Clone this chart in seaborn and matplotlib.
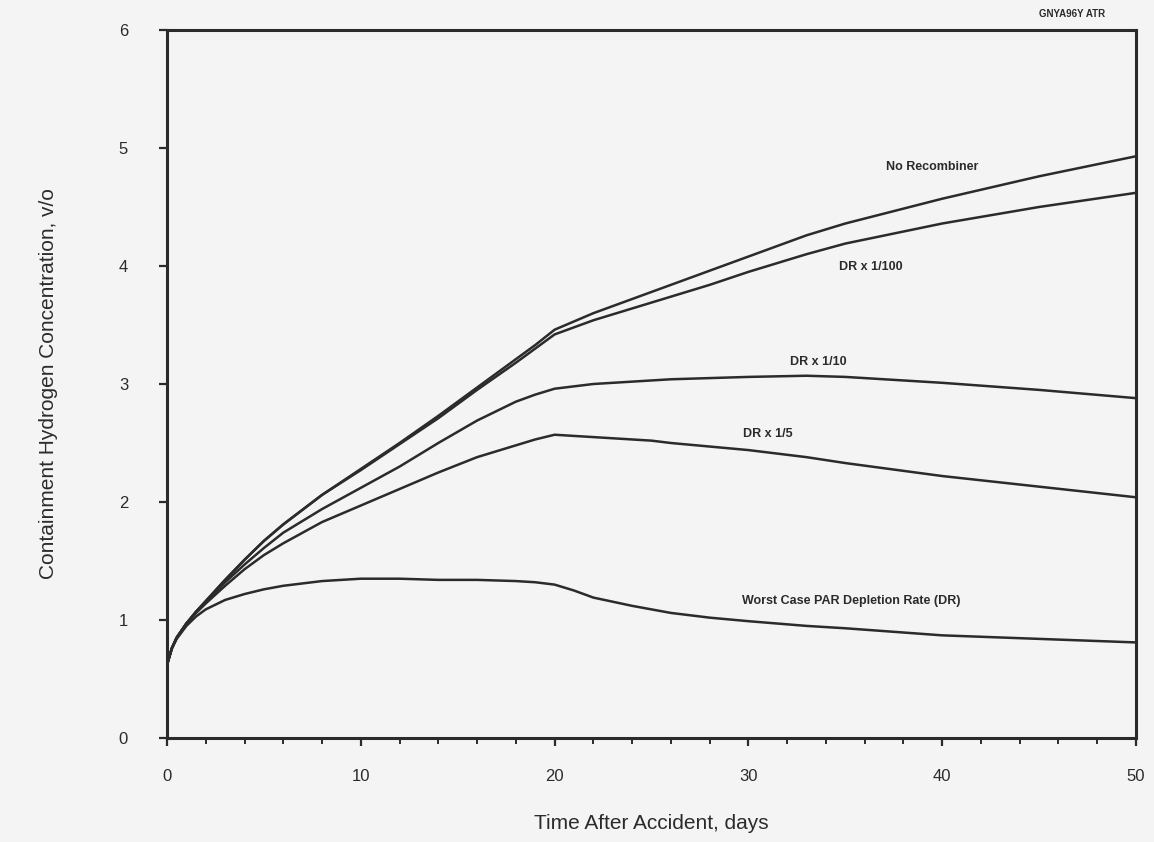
import numpy as np
import pandas as pd
import matplotlib
matplotlib.use("Agg")
import matplotlib.pyplot as plt
import seaborn as sns
from matplotlib.ticker import MultipleLocator

# ---- data ----
days = [0, 0.25, 0.5, 1, 1.5, 2, 3, 4, 5, 6, 8, 10, 12, 14, 16, 18, 19, 20, 21, 22, 24, 25, 26, 28, 30, 33, 35, 40, 45, 50]

no_recombiner = [0.62, 0.76, 0.85, 0.97, 1.07, 1.16, 1.34, 1.51, 1.67, 1.81, 2.06, 2.28, 2.50, 2.73, 2.97, 3.21, 3.33, 3.46, 3.53, 3.60, 3.72, 3.78, 3.84, 3.96, 4.08, 4.26, 4.36, 4.57, 4.76, 4.93]
dr_1_100 = [0.62, 0.76, 0.85, 0.97, 1.07, 1.16, 1.34, 1.51, 1.67, 1.81, 2.06, 2.27, 2.49, 2.71, 2.95, 3.18, 3.30, 3.42, 3.48, 3.54, 3.64, 3.69, 3.74, 3.84, 3.95, 4.10, 4.19, 4.36, 4.50, 4.62]
dr_1_10 = [0.62, 0.76, 0.85, 0.97, 1.07, 1.15, 1.32, 1.47, 1.61, 1.74, 1.94, 2.12, 2.30, 2.50, 2.69, 2.85, 2.91, 2.96, 2.98, 3.00, 3.02, 3.03, 3.04, 3.05, 3.06, 3.07, 3.06, 3.01, 2.95, 2.88]
dr_1_5 = [0.62, 0.76, 0.85, 0.97, 1.06, 1.14, 1.29, 1.43, 1.55, 1.65, 1.83, 1.97, 2.11, 2.25, 2.38, 2.48, 2.53, 2.57, 2.56, 2.55, 2.53, 2.52, 2.50, 2.47, 2.44, 2.38, 2.33, 2.22, 2.13, 2.04]
worst_case = [0.62, 0.76, 0.84, 0.95, 1.03, 1.09, 1.17, 1.22, 1.26, 1.29, 1.33, 1.35, 1.35, 1.34, 1.34, 1.33, 1.32, 1.30, 1.25, 1.19, 1.12, 1.09, 1.06, 1.02, 0.99, 0.95, 0.93, 0.87, 0.84, 0.81]

series_names = ["No Recombiner", "DR x 1/100", "DR x 1/10", "DR x 1/5",
                "Worst Case PAR Depletion Rate (DR)"]
series_values = [no_recombiner, dr_1_100, dr_1_10, dr_1_5, worst_case]

# label anchor positions (data coords)
label_x = [39.5, 36.3, 33.6, 31.0, 35.3]
label_y = [4.84, 3.99, 3.19, 2.58, 1.16]

x_ticks = [0, 10, 20, 30, 40, 50]
y_ticks = [0, 1, 2, 3, 4, 5, 6]

df = pd.concat([pd.DataFrame({"day": days, "conc": v, "case": n})
                for n, v in zip(series_names, series_values)], ignore_index=True)

# ---- styling ----
sns.set_style("white")
plt.rcParams["font.family"] = ["Liberation Sans", "DejaVu Sans"]
bg = "#f4f4f4"
ink = "#2b2b2b"

fig = plt.figure(figsize=(11.54, 8.42), dpi=100, facecolor=bg)
ax = fig.add_axes([0.1447, 0.1235, 0.8397, 0.8409])
ax.set_facecolor(bg)

sns.lineplot(data=df, x="day", y="conc", hue="case", hue_order=series_names,
             palette=[ink] * len(series_names), linewidth=1.8, legend=False,
             sort=False, ax=ax)

ax.set_xlim(0, 50)
ax.set_ylim(0, 6)
ax.set_xticks(x_ticks)
ax.set_yticks(y_ticks)
ax.xaxis.set_minor_locator(MultipleLocator(2))
ax.tick_params(axis="both", which="both", bottom=True, left=True, top=False, right=False)
ax.tick_params(axis="both", which="major", direction="out", length=6, width=1.6,
               color=ink, labelsize=12, labelcolor=ink)
ax.tick_params(axis="x", which="major", pad=16)
ax.tick_params(axis="x", which="minor", direction="out", length=4, width=1.4, color=ink)
ax.tick_params(axis="y", which="major", pad=22)
for s in ax.spines.values():
    s.set_visible(True)
    s.set_color(ink)
    s.set_linewidth(2.2)

ax.set_xlabel("Time After Accident, days", fontsize=15, color=ink, labelpad=22)
ax.set_ylabel("Containment Hydrogen Concentration, v/o", fontsize=15, color=ink, labelpad=44)

for n, lx, ly in zip(series_names, label_x, label_y):
    ax.text(lx, ly, n, ha="center", va="center", fontsize=9, fontweight="bold", color=ink)

fig.text(0.900, 0.978, "GNYA96Y ATR", fontsize=7, fontweight="bold", color=ink,
         ha="left", va="bottom")

fig.savefig("out.png", dpi=100, facecolor=bg)
